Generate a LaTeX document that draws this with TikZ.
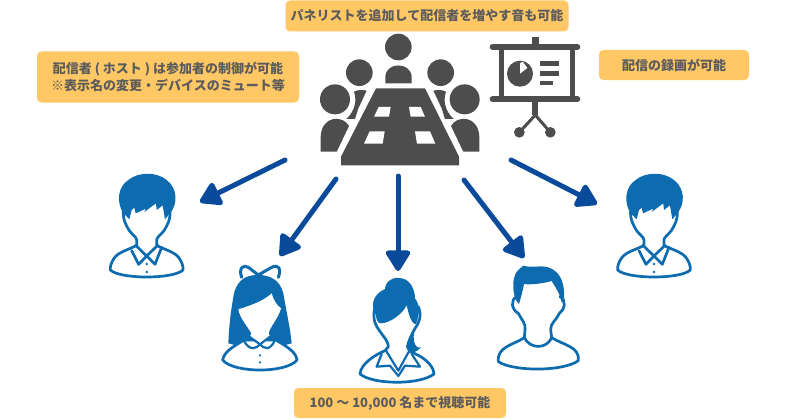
\documentclass[tikz,border=0pt]{standalone}
\usepackage{fontspec}
\usetikzlibrary{arrows.meta}
\newfontfamily\jpfont{Noto Sans CJK JP}
\definecolor{cardfill}{HTML}{FFC864}
\definecolor{cardtext}{HTML}{5C5C5C}
\definecolor{hairblue}{HTML}{0D6BB0}
\definecolor{arrowblue}{HTML}{0A4A9A}
\definecolor{darkgrey}{HTML}{4D4D4D}
\tikzset{
  card/.style={fill=cardfill,rounded corners=4.5pt,text=cardtext,align=center,font=\jpfont\bfseries\fontsize{13}{17}\selectfont,inner sep=0pt},
  flow/.style={arrowblue,line width=5pt,line cap=round,-{Triangle[width=27pt,length=23pt,round]}},
  line/.style={hairblue,line width=2.7pt,line join=round,line cap=round,fill=white},
  hairfill/.style={fill=hairblue,draw=none},
  greyfill/.style={fill=darkgrey,draw=none},
  greyline/.style={darkgrey,line width=3.4pt,line cap=round},
  paneltile/.style={fill=white,draw=none}
}
\newcommand{\manfig}{%
  \draw[line] (100,150) .. controls (98,180) and (108,195) .. (118,212) .. controls (128,225) and (140,232) .. (140,240) -- (140,256)
    .. controls (120,268) and (85,275) .. (72,295) .. controls (64,308) and (60,318) .. (61,330)
    .. controls (90,358) and (250,358) .. (279,330) .. controls (280,318) and (276,308) .. (268,295)
    .. controls (255,275) and (220,268) .. (200,256) -- (200,240) .. controls (200,232) and (212,225) .. (222,212) .. controls (232,195) and (242,180) .. (240,150);
  \draw[line,fill=none] (125,272) -- (146,313) -- (170,288) -- (195,313) -- (215,262);
  \draw[line,fill=none] (137,256) -- (170,288) -- (203,256);
  \fill[hairblue] (170,312) circle (4) (170,336) circle (4);
  \path[hairfill] (100,160) .. controls (78,125) and (84,80) .. (115,60) .. controls (145,35) and (200,35) .. (230,60) .. controls (262,85) and (265,130) .. (240,160)
    -- (225,178) -- (218,136) -- (200,150) -- (198,130) -- (163,156) -- (168,146) -- (137,160) -- (133,143) -- (125,150) -- (118,178) -- cycle;
}
\newcommand{\girlfig}{%
  % bow
  \draw[line,fill=none,line width=3pt] (455,352) .. controls (445,325) and (460,312) .. (475,322) -- (505,345) -- (545,322) .. controls (565,312) and (575,325) .. (565,352);
  % hair
  \path[hairfill] (415,550) .. controls (418,480) and (425,440) .. (432,400) .. controls (445,350) and (480,345) .. (505,345) .. controls (540,345) and (570,360) .. (580,400) .. controls (590,460) and (600,500) .. (605,550) -- (510,575) -- cycle;
  \draw[line] (398,600) .. controls (402,575) and (430,560) .. (462,540) -- (558,540) .. controls (590,560) and (618,575) .. (621,600) .. controls (590,640) and (430,640) .. (398,600) -- cycle;
  \path[fill=white] (445,448) .. controls (470,440) and (520,425) .. (545,400) .. controls (550,420) and (560,435) .. (573,445) .. controls (565,475) and (540,500) .. (536,520) -- (540,530) -- (510,560) -- (480,530) -- (484,520) .. controls (470,495) and (450,475) .. (445,448) -- cycle;
  \draw[line,fill=none,line width=2.2pt] (462,543) .. controls (480,575) and (500,565) .. (510,553) .. controls (520,565) and (540,575) .. (555,540);
  \draw[line,fill=none,line width=2.2pt] (478,530) -- (510,553) -- (540,530);
  \fill[hairblue] (510,586) circle (3.8) (510,607) circle (3.8);
}
\newcommand{\ladyfig}{%
  % body
  \draw[line] (105,170) .. controls (100,190) and (100,210) .. (108,225) .. controls (120,250) and (145,270) .. (145,290) -- (135,302) .. controls (110,312) and (62,340) .. (60,372) .. controls (100,405) and (240,405) .. (282,372) .. controls (280,340) and (240,315) .. (210,305) -- (205,290) .. controls (205,270) and (215,255) .. (225,235) .. controls (240,215) and (245,195) .. (235,170);
  \draw[line,fill=none,line width=2.2pt] (125,312) -- (110,350) -- (150,347) -- (175,378) -- (195,347) -- (240,350) -- (215,312);
  \draw[line,fill=none,line width=2.2pt] (138,302) -- (175,362) -- (208,302);
  % hair
  \path[hairfill] (108,195) .. controls (92,170) and (95,135) .. (135,117) .. controls (135,95) and (160,78) .. (185,85) .. controls (215,90) and (225,125) .. (225,145) .. controls (240,165) and (240,190) .. (228,222) .. controls (215,225) and (205,190) .. (200,165) .. controls (190,190) and (150,220) .. (122,220) .. controls (112,220) and (108,205) .. (108,195) -- cycle;
  \path[hairfill] (225,235) .. controls (215,260) and (200,270) .. (198,290) .. controls (200,305) and (220,318) .. (243,292) .. controls (225,298) and (215,270) .. (225,235) -- cycle;
}
\newcommand{\guyfig}{%
  \draw[line] (200,440) .. controls (180,450) and (185,480) .. (205,490) .. controls (215,510) and (228,520) .. (225,540) -- (223,563)
    .. controls (190,585) and (140,590) .. (145,635) .. controls (190,665) and (340,665) .. (385,632) .. controls (390,590) and (340,585) .. (305,563)
    -- (302,540) .. controls (300,520) and (320,510) .. (328,490) .. controls (345,480) and (350,450) .. (330,440);
  \draw[line,fill=none] (223,563) .. controls (240,598) and (290,598) .. (305,563);
  \path[hairfill] (197,450) .. controls (185,415) and (188,375) .. (205,360) -- (220,347) .. controls (245,355) and (270,345) .. (295,352) .. controls (330,365) and (345,395) .. (342,450) -- (335,458) .. controls (330,430) and (315,410) .. (305,393) .. controls (280,400) and (245,405) .. (222,402) .. controls (218,425) and (212,445) .. (207,462) -- cycle;
}
\begin{document}
\begin{tikzpicture}[x=1pt,y=-1pt]
\useasboundingbox (0,0) rectangle (800,420);
\path[fill=white] (0,0) rectangle (800,420);
% cards
\node[card,minimum width=283pt,minimum height=31pt] (top) at (427,16) {パネリストを追加して配信者を増やす音も可能};
\node[card,minimum width=262pt,minimum height=51pt] (host) at (168,77) {配信者 ( ホスト ) は参加者の制御が可能\\※表示名の変更・デバイスのミュート等};
\node[card,minimum width=150pt,minimum height=30pt] (rec) at (674,65) {配信の録画が可能};
\node[card,minimum width=212pt,minimum height=30pt] (cap) at (400,403) {100 ～ 10,000 名まで視聴可能};
% meeting table group
\begin{scope}[shift={(300,0)},scale=1/3]
  \path[greyfill] (295,141) circle (40);
  \path[greyfill] (178,218) circle (40);
  \path[greyfill] (422,218) circle (40);
  \path[greyfill] (105,298) circle (45);
  \path[greyfill] (494,298) circle (45);
  \path[greyfill] (256,250) -- (256,230) .. controls (258,185) and (332,185) .. (335,230) -- (335,250) -- cycle;
  \path[greyfill] (162,275) .. controls (175,268) and (190,270) .. (200,272) -- (175,325) -- (165,357) -- (138,357) .. controls (155,345) and (175,310) .. (162,275) -- cycle;
  \path[greyfill] (438,275) .. controls (425,268) and (410,270) .. (400,272) -- (425,325) -- (435,357) -- (462,357) .. controls (445,345) and (425,310) .. (438,275) -- cycle;
  \path[greyfill] (62,455) -- (62,410) .. controls (65,345) and (130,345) .. (147,378) -- (110,455) -- cycle;
  \path[greyfill] (538,455) -- (538,410) .. controls (535,345) and (470,345) .. (453,378) -- (490,455) -- cycle;
  \path[greyfill] (228,265) -- (375,265) -- (477,470) -- (477,496) -- (123,496) -- (123,470) -- cycle;
  \path[paneltile] (236,321) -- (272,321) -- (267,350) -- (222,350) -- cycle;
  \path[paneltile] (327,321) -- (362,321) -- (375,350) -- (332,350) -- cycle;
  \path[paneltile] (209,394) -- (254,394) -- (248,431) -- (192,431) -- cycle;
  \path[paneltile] (345,394) -- (390,394) -- (406,431) -- (351,431) -- cycle;
  % screen
  \path[greyfill] (695,112) rectangle (716,135);
  \draw[greyline,line width=6pt] (578,141) -- (832,141);
  \draw[greyline,line width=6pt] (578,297) -- (832,297);
  \path[greyfill] (598,141) rectangle (612,297);
  \path[greyfill] (810,141) rectangle (824,297);
  \path[greyfill] (697,297) rectangle (715,345);
  \draw[greyline,line width=3pt,line cap=butt] (706,345) -- (658,397);
  \draw[greyline,line width=3pt,line cap=butt] (706,345) -- (751,397);
  \path[greyfill] (658,397) circle (16) (751,397) circle (16);
  \path[greyfill] (660,221) circle (39);
  \path[fill=white] (660,221) -- (660,190) -- (668,185) -- (682,204) -- cycle;
  \path[greyfill] (721,184) rectangle (778,198);
  \path[greyfill] (721,213) rectangle (778,227);
  \path[greyfill] (721,242) rectangle (760,256);
\end{scope}
% people
\begin{scope}[shift={(90,160)},scale=1/3]
  \manfig
  \girlfig
\end{scope}
\begin{scope}[shift={(597.3,160)},scale=1/3]
  \manfig
\end{scope}
\begin{scope}[shift={(340,250)},scale=1/3]
  \ladyfig
\end{scope}
\begin{scope}[shift={(450,150)},scale=1/3]
  \guyfig
\end{scope}
% connector ends
\coordinate (src1) at (285,160);
\coordinate (src2) at (336,179);
\coordinate (src3) at (398,176);
\coordinate (src4) at (464,180);
\coordinate (src5) at (511,160);
\coordinate (dst1) at (200,202);
\coordinate (dst2) at (280,256);
\coordinate (dst3) at (398,271);
\coordinate (dst4) at (524,258);
\coordinate (dst5) at (597,204);
\draw[flow] (src1) -- (dst1);
\draw[flow] (src2) -- (dst2);
\draw[flow] (src3) -- (dst3);
\draw[flow] (src4) -- (dst4);
\draw[flow] (src5) -- (dst5);
\end{tikzpicture}
\end{document}
